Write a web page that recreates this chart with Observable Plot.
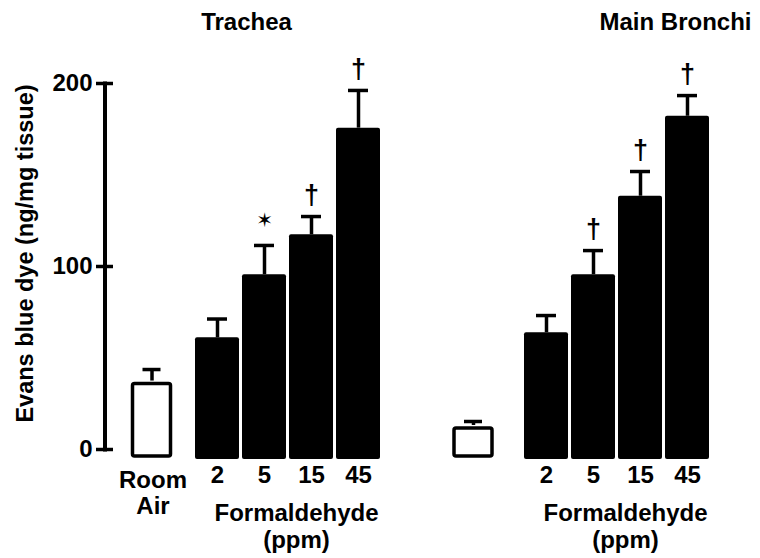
<!DOCTYPE html>
<html><head><meta charset="utf-8">
<script src="https://cdn.jsdelivr.net/npm/d3@7"></script>
<script src="https://cdn.jsdelivr.net/npm/@observablehq/plot@0.6"></script>
<style>body{margin:0;background:#fff}</style>
</head><body><div id="chart"></div>
<script>
// ---- data ----
const panels = ["Trachea", "Main Bronchi"];
const groups = ["Room Air", "2", "5", "15", "45"];
const tracheaMean = [37.4, 61.0, 95.5, 117.3, 175.6];
const tracheaErr = [6.3, 10.3, 16.0, 10.0, 20.6];
const tracheaMark = ["", "", "✶", "†", "†"];
const bronchiMean = [13.1, 63.8, 95.5, 138.4, 182.1];
const bronchiErr = [2.2, 9.4, 13.2, 13.5, 11.3];
const bronchiMark = ["", "", "†", "†", "†"];
const yTicks = [0, 100, 200];
const xTitle = "Formaldehyde\n(ppm)";
const yTitle = "Evans blue dye (ng/mg tissue)";
const controlLabel = "Room\nAir";

// ---- build table ----
const series = [[tracheaMean, tracheaErr, tracheaMark], [bronchiMean, bronchiErr, bronchiMark]];
const rows = panels.flatMap((p, pi) => groups.map((g, gi) => ({
  panel: p, group: g, key: p + "|" + g,
  mean: series[pi][0][gi], top: series[pi][0][gi] + series[pi][1][gi],
  mark: series[pi][2][gi], control: gi === 0
})));
const domain = [...groups.map(g => panels[0] + "|" + g), "gap1", "gap2", ...groups.map(g => panels[1] + "|" + g)];

const BASE = -5.5;
const FONT = "'Liberation Sans', Arial, Helvetica, sans-serif";
const FS = 24;

function barSet(data, dx, control) {
  return [
    Plot.barY(data, {x: "key", y1: BASE, y2: "mean", dx,
      fill: control ? "white" : "black", stroke: control ? "black" : undefined,
      strokeWidth: control ? 3.5 : undefined, inset: control ? 3 : 0, rx: 2}),
    Plot.ruleX(data, {x: "key", y1: "mean", y2: "top", dx, stroke: "black", strokeWidth: 3.5}),
    Plot.tickY(data, {x: "key", y: "top", dx, stroke: "black", strokeWidth: 3.5, inset: control ? 13 : 12})
  ];
}

const ctrlT = rows.filter(d => d.control && d.panel === panels[0]);
const ctrlB = rows.filter(d => d.control && d.panel === panels[1]);
const doses = rows.filter(d => !d.control);

const chart = Plot.plot({
  width: 760, height: 558,
  marginLeft: 104.5, marginRight: 51.15, marginTop: 83, marginBottom: 109,
  style: {fontFamily: FONT, fontWeight: "bold", color: "black", background: "white", overflow: "visible"},
  x: {type: "band", domain, paddingInner: 0.07, paddingOuter: 0.464, align: 1},
  y: {domain: [0, 200]},
  marks: [
    Plot.frame({anchor: "left", stroke: "black", strokeWidth: 4}),
    Plot.axisY({ticks: yTicks, tickSize: 17, dx: 8.5, tickPadding: 4, strokeWidth: 3.5,
      fontSize: FS, fontWeight: "bold", label: null, tickFormat: d => String(d)}),
    Plot.axisX({ticks: doses.map(d => d.key), tickSize: 0, tickPadding: 16.5, fontSize: FS,
      fontWeight: "bold", label: null, tickFormat: k => k.split("|")[1]}),
    ...barSet(ctrlT, -18.5, true),
    ...barSet(ctrlB, -26, true),
    ...barSet(doses, 0, false),
    Plot.text(rows.filter(d => d.mark === "†"), {x: "key", y: "top", text: "mark", dy: -21,
      fontSize: 27, fontWeight: "bold"}),
    Plot.text(rows.filter(d => d.mark === "✶"), {x: "key", y: "top", text: "mark", dy: -25,
      fontSize: 20, fontFamily: "DejaVu Sans"}),
    Plot.text([panels[0]], {x: p => p + "|5", text: d => d, frameAnchor: "top", dy: -54, dx: -18,
      lineAnchor: "bottom", fontSize: FS, fontWeight: "bold"}),
    Plot.text([panels[1]], {x: p => p + "|45", text: d => d, frameAnchor: "top", dy: -54, dx: -12,
      lineAnchor: "bottom", fontSize: FS, fontWeight: "bold"}),
    Plot.text(panels, {x: p => p + "|15", text: () => xTitle, frameAnchor: "bottom", dy: 98, dx: -15,
      lineAnchor: "bottom", lineHeight: 1.09, fontSize: FS, fontWeight: "bold"}),
    Plot.text([controlLabel], {x: () => panels[0] + "|" + groups[0], text: d => d, frameAnchor: "bottom",
      dy: 64, dx: -17.5, lineAnchor: "bottom", lineHeight: 1.06, fontSize: FS, fontWeight: "bold"}),
    Plot.text([yTitle], {frameAnchor: "left", text: d => d, rotate: -90, dx: -79.5, dy: -13,
      textAnchor: "middle", fontSize: 23.5, fontWeight: "bold"})
  ]
});
document.getElementById("chart").appendChild(chart);
</script>
</body></html>
